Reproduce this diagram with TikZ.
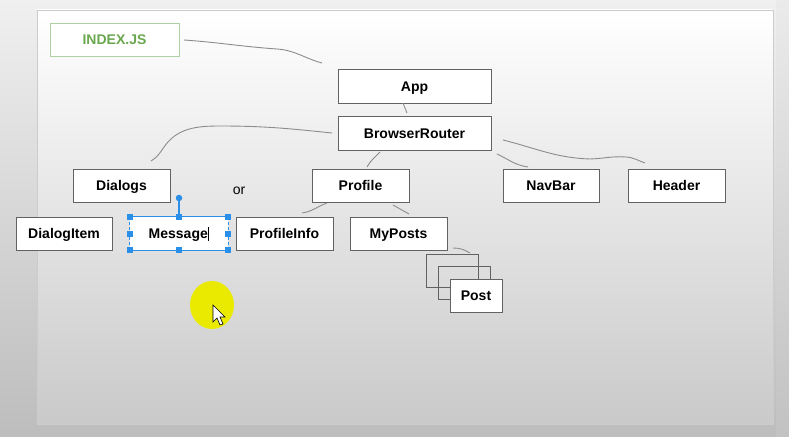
\documentclass[tikz,border=0pt]{standalone}
\usepackage{fontspec}
\setmainfont{Liberation Sans}
\usetikzlibrary{positioning}

\definecolor{boxline}{HTML}{626262}
\definecolor{wire}{HTML}{8C8C8C}
\definecolor{idxgreen}{HTML}{6AA84F}
\definecolor{idxline}{HTML}{AFD0A2}
\definecolor{selblue}{HTML}{2A8FE8}
\definecolor{hiyellow}{HTML}{EAEA00}

\tikzset{
  comp/.style={draw=boxline, line width=0.9pt, fill=white, inner sep=0pt,
    minimum width=97pt, minimum height=33pt, text height=10pt, text depth=0pt,
    font=\fontsize{14}{16}\selectfont\bfseries},
  wireline/.style={draw=wire, line width=0.9pt},
  grip/.style={fill=selblue, minimum size=6pt, inner sep=0pt},
}

\begin{document}
\begin{tikzpicture}[x=1pt, y=-1pt]
    \useasboundingbox (0,0) rectangle (789,436);

    % Screen background and slide
    \shade[top color=black!6, bottom color=black!26] (0,0) rectangle (789,436);
    \shade[top color=black!8, bottom color=black!24] (776,0) rectangle (789,436);
    \shade[top color=white, middle color=white!97!black, bottom color=black!21] (37,10) rectangle (773,424);
    \draw[black!20, line width=0.8pt] (37,10) rectangle (773,424);

    % Entry file
    \node[comp, draw=idxline, text=idxgreen, minimum width=129pt] (index) at (114.5,39.5) {INDEX.JS};

    % Component tree
    \node[comp, minimum width=153pt, minimum height=34pt] (app) at (414.5,86) {App};
    \node[comp, minimum width=153pt, minimum height=34pt] (router) at (414.5,133) {BrowserRouter};

    \node[comp] (dialogs) at (121.5,185.5) {Dialogs};
    \node[font=\fontsize{14}{16}\selectfont] (or) at (239,191) {or};
    \node[comp] (profile) at (360.5,185.5) {Profile};
    \node[comp, minimum width=96pt] (navbar) at (551,185.5) {NavBar};
    \node[comp] (header) at (676.5,185.5) {Header};

    \node[comp, minimum width=96pt] (dialogitem) at (64,233.5) {DialogItem};
    \node[comp, draw=none, minimum width=98pt] (message) at (179,233.5)
        {Message\kern0.5pt\rule[-2.5pt]{0.9pt}{14pt}};
    \node[comp] (profileinfo) at (284.5,233.5) {ProfileInfo};
    \node[comp] (myposts) at (398.5,233.5) {MyPosts};

    % Stack of posts
    \node[comp, fill=none, minimum width=52pt] (post1) at (452,270.5) {};
    \node[comp, fill=none, minimum width=52pt] (post2) at (464,283) {};
    \node[comp, minimum width=52pt] (post3) at (476,295.5) {Post};

    % Selection frame round Message
    \draw[selblue, line width=1.4pt] (message.north west) -- (message.north east);
    \draw[selblue, line width=1.4pt] (message.south west) -- (message.south east);
    \draw[selblue, line width=1.4pt, dash pattern=on 3pt off 2pt] (message.north west) -- (message.south west);
    \draw[selblue, line width=1.4pt, dash pattern=on 3pt off 2pt] (message.north east) -- (message.south east);
    \node[fill=selblue, circle, minimum size=6.5pt, inner sep=0pt] (rot) at (179,198) {};
    \draw[selblue, line width=1.2pt] (rot) -- (message.north);
    \foreach \a in {north west,north,north east,east,south east,south,south west,west}
        \node[grip] at (message.\a) {};

    % Hand drawn connectors
    \coordinate (idx-out) at (184,40);
    \coordinate (app-in) at (322,63);
    \draw[wireline] (idx-out) to[out=-4,in=176] (277,49) to[out=-4,in=165] (app-in);

    \coordinate (app-out) at (403,103);
    \coordinate (rt-in) at (407,113);
    \draw[wireline] (app-out) -- (rt-in);

    \coordinate (rt-w) at (332,133);
    \coordinate (dlg-in) at (151,161);
    \draw[wireline] (rt-w) to[out=174,in=0] (220,126) to[out=180,in=55] (164,147) to[out=235,in=30] (dlg-in);

    \coordinate (rt-s) at (380,152);
    \coordinate (pro-in) at (367,167);
    \draw[wireline] (rt-s) to[out=225,in=60] (pro-in);

    \coordinate (rt-se) at (497,154);
    \coordinate (nav-in) at (528,167);
    \draw[wireline] (rt-se) to[out=-25,in=172] (nav-in);

    \coordinate (rt-e) at (503,140);
    \coordinate (hdr-in) at (645,163);
    \draw[wireline] (rt-e) to[out=-14,in=178] (590,159) to[out=2,in=176] (626,157) to[out=-4,in=160] (hdr-in);

    \coordinate (pro-sw) at (327,203);
    \coordinate (info-in) at (302,213);
    \draw[wireline] (pro-sw) to[out=200,in=8] (info-in);

    \coordinate (pro-se) at (393,205);
    \coordinate (mp-in) at (409,214);
    \draw[wireline] (pro-se) -- (mp-in);

    \coordinate (mp-out) at (453,248);
    \coordinate (post-in) at (470,253);
    \draw[wireline] (mp-out) to[out=0,in=150] (post-in);

    % Pointer highlight
    \fill[hiyellow] (212,305) ellipse (22 and 24);
    \draw[black, line width=0.6pt, fill=white] (213,305) -- (213,322) -- (217,318) -- (220,325)
        -- (223,324) -- (220,317) -- (225,317) -- cycle;
\end{tikzpicture}
\end{document}
